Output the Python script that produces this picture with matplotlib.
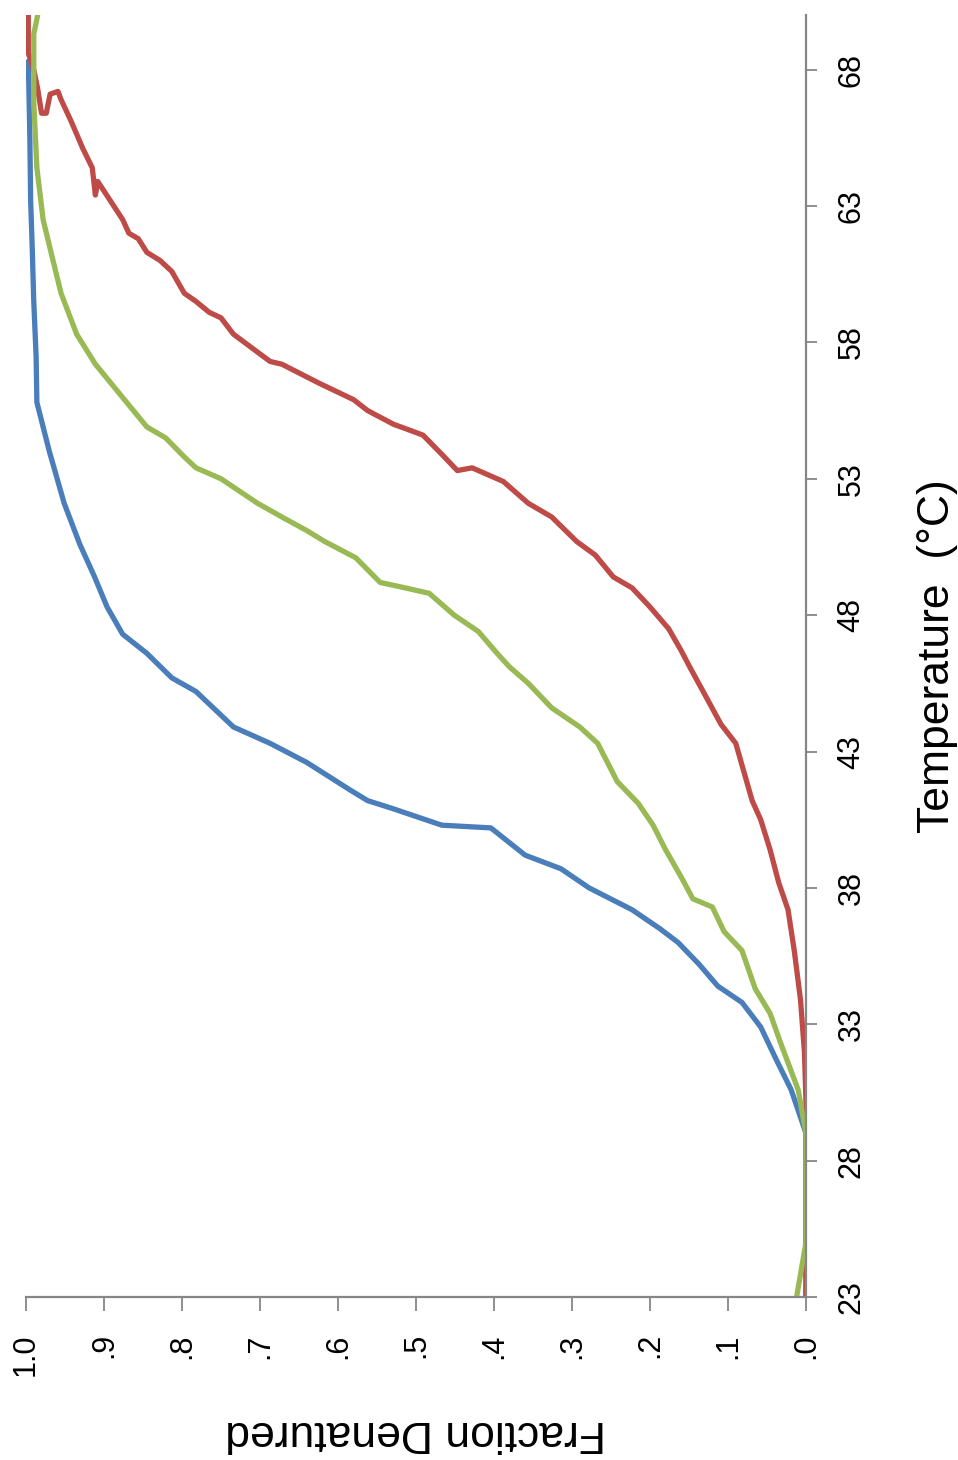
import matplotlib
matplotlib.use("Agg")
import matplotlib.pyplot as plt

plt.rcParams['font.family'] = ['Liberation Sans', 'DejaVu Sans']

# temperature (deg C) vs fraction denatured
blue_temp = [23, 25, 27, 29.0, 30.6, 31.7, 32.9, 33.8, 34.4, 35.2, 36.0, 36.5, 37.2, 38.0, 38.7, 39.2,
             40.2, 40.3, 40.9, 41.2, 41.6, 42.6, 43.3, 43.9, 45.2, 45.7, 46.6, 47.3, 48.3, 49.4, 50.6,
             52.1, 54.0, 55.8, 57.5, 59.5, 61.5, 63.2, 65.5, 68.3]
blue_frac = [0, 0, 0, 0, 0.019, 0.038, 0.058, 0.082, 0.113, 0.137, 0.164, 0.187, 0.223, 0.278, 0.314, 0.360,
             0.404, 0.467, 0.529, 0.562, 0.585, 0.640, 0.687, 0.734, 0.782, 0.813, 0.845, 0.876, 0.896, 0.912,
             0.931, 0.951, 0.970, 0.986, 0.987, 0.990, 0.992, 0.994, 0.995, 0.997]

red_temp = [23, 25, 27, 29, 30.2, 32, 33.9, 35.7, 37.2, 38.2, 39.4, 40.5, 41.2, 43.3, 44.0, 45.0, 46.1,
            46.7, 47.5, 48.3, 49.0, 49.4, 50.2, 50.7, 51.6, 52.1, 52.9, 53.4, 53.3, 53.9, 54.6, 55.0, 55.5,
            55.9, 56.5, 57.2, 57.3, 58.3, 58.9, 59.1, 59.5, 59.8, 60.6, 61.0, 61.3, 61.8, 62.0, 62.5, 63.2,
            63.9, 63.4, 64.4, 65.1, 66.1, 66.9, 67.2, 67.1, 66.4, 66.4, 67.3, 68.0, 68.6, 70]
red_frac = [0, 0, 0, 0, 0, 0.002, 0.007, 0.015, 0.023, 0.035, 0.046, 0.058, 0.069, 0.09, 0.109, 0.128, 0.149,
            0.16, 0.176, 0.2, 0.223, 0.247, 0.27, 0.294, 0.326, 0.356, 0.388, 0.428, 0.447, 0.467, 0.491, 0.529,
            0.562, 0.58, 0.624, 0.672, 0.687, 0.734, 0.75, 0.765, 0.782, 0.797, 0.813, 0.828, 0.845, 0.856,
            0.868, 0.876, 0.892, 0.908, 0.911, 0.915, 0.927, 0.942, 0.955, 0.959, 0.969, 0.974, 0.98, 0.985,
            0.99, 0.997, 0.997]

green_temp = [23, 24, 25, 27, 29, 30.6, 32.2, 33.4, 34.3, 35.7, 36.4, 37.3, 37.6, 38.4, 39.4, 40.3, 41.1,
              41.9, 43.3, 43.9, 44.6, 45.5, 46.1, 46.6, 47.4, 48.0, 48.8, 49.0, 49.2, 50.1, 50.7, 51.1, 51.6,
              52.1, 53.0, 53.4, 53.8, 54.5, 54.9, 55.7, 57.2, 58.3, 59.8, 61.2, 62.5, 64.4, 66.8, 69.3, 70]
green_frac = [0.012, 0.006, 0, 0, 0, 0.01, 0.031, 0.046, 0.065, 0.082, 0.105, 0.12, 0.145, 0.16, 0.18, 0.196,
              0.215, 0.242, 0.267, 0.29, 0.326, 0.356, 0.38, 0.396, 0.42, 0.451, 0.483, 0.514, 0.546, 0.577,
              0.617, 0.64, 0.672, 0.703, 0.75, 0.782, 0.797, 0.821, 0.845, 0.868, 0.911, 0.935, 0.955, 0.967,
              0.978, 0.986, 0.99, 0.99, 0.985]

temp_ticks = [23, 28, 33, 38, 43, 48, 53, 58, 63, 68]
frac_ticks = [1.0, 0.9, 0.8, 0.7, 0.6, 0.5, 0.4, 0.3, 0.2, 0.1, 0.0]
frac_labels = ['1.0', '.9', '.8', '.7', '.6', '.5', '.4', '.3', '.2', '.1', '.0']

fig = plt.figure(figsize=(9.58, 14.6), dpi=100)
ax = fig.add_axes([0.0271, 0.1116, 0.8142, 0.8781])

# the chart is drawn turned on its side: fraction runs along the bottom, temperature up the right
ax.plot(blue_frac, blue_temp, color='#4A7EBB', lw=3.8, solid_joinstyle='round', solid_capstyle='round')
ax.plot(red_frac, red_temp, color='#BE4B48', lw=3.8, solid_joinstyle='round', solid_capstyle='round')
ax.plot(green_frac, green_temp, color='#98B954', lw=3.8, solid_joinstyle='round', solid_capstyle='round')

ax.set_xlim(1.0, 0.0)
ax.set_ylim(23, 70)
ax.set_xticks(frac_ticks)
ax.set_xticklabels(frac_labels)
ax.set_yticks(temp_ticks)
ax.yaxis.tick_right()
ax.yaxis.set_label_position('right')

for side in ['left', 'top']:
    ax.spines[side].set_visible(False)
for side in ['right', 'bottom']:
    ax.spines[side].set_color('#868686')
    ax.spines[side].set_linewidth(1.6)

ax.tick_params(axis='x', length=10, width=1.3, color='#868686', labelsize=22, labelrotation=90, pad=16)
ax.tick_params(axis='y', length=8, width=1.3, color='#868686', labelsize=22, labelrotation=90, pad=14)
for lab in ax.get_yticklabels():
    lab.set_verticalalignment('center')

ax.set_xlabel('Fraction Denatured', fontsize=32, rotation=180, labelpad=26)
ax.set_ylabel('Temperature  (\u00b0C)', fontsize=32, rotation=90, labelpad=36)

fig.savefig('out.png', dpi=100)
